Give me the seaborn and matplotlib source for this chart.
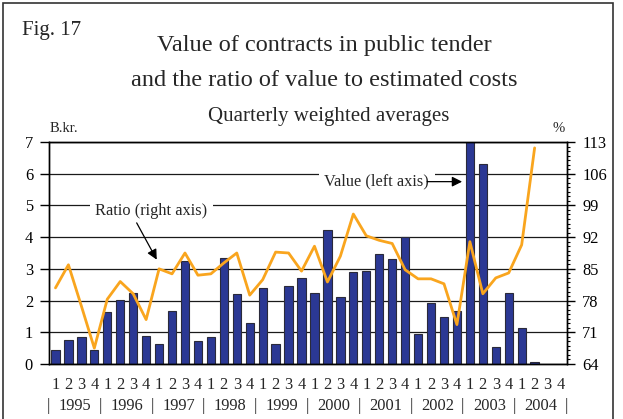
import numpy as np
import pandas as pd
import matplotlib
matplotlib.use("Agg")
import matplotlib.pyplot as plt
import matplotlib.transforms as mtransforms
from matplotlib.patches import Rectangle
from matplotlib.ticker import MultipleLocator
import seaborn as sns

# ---- data ----
years = ["1995", "1996", "1997", "1998", "1999", "2000", "2001", "2002", "2003", "2004"]
quarters = ["1", "2", "3", "4"]
categories = [f"{y}Q{q}" for y in years for q in quarters]

value_bkr = [0.45, 0.76, 0.86, 0.45,
             1.65, 2.02, 2.25, 0.87,
             0.62, 1.68, 3.26, 0.74,
             0.84, 3.34, 2.22, 1.30,
             2.41, 0.64, 2.47, 2.72,
             2.24, 4.23, 2.10, 2.91,
             2.93, 3.47, 3.32, 4.01,
             0.96, 1.93, 1.47, 1.67,
             7.00, 6.30, 0.55, 2.25,
             1.14, 0.06]

ratio_pct = [80.8, 85.9, 76.8, 67.5,
             78.3, 82.2, 79.5, 73.8,
             85.0, 83.9, 88.5, 83.6,
             83.9, 86.3, 88.5, 79.2,
             82.6, 88.7, 88.5, 84.5,
             90.0, 82.1, 87.8, 97.1,
             92.3, 91.3, 90.6, 84.8,
             82.8, 82.8, 81.7, 72.7,
             91.0, 79.5, 83.0, 84.1,
             90.3, 111.7]

left_ticks = [0, 1, 2, 3, 4, 5, 6, 7]
right_ticks = [64, 71, 78, 85, 92, 99, 106, 113]

title_lines = ["Value of contracts in public tender",
               "and the ratio of value to estimated costs"]
subtitle = "Quarterly weighted averages"

# ---- style ----
sns.set_theme(style="white")
plt.rcParams["font.family"] = ["Liberation Serif", "DejaVu Serif"]
plt.rcParams["axes.linewidth"] = 1.0

BAR = "#2b3894"
BAR_EDGE = "#2a2a3a"
LINE = "#f9a51e"
FS = 11.8

fig = plt.figure(figsize=(6.23, 4.19), dpi=100)
W, H = 623, 419
ax = fig.add_axes([49 / W, 1 - 364 / H, (567 - 49) / W, (364 - 142) / H])

df = pd.DataFrame({"cat": categories[:len(value_bkr)], "value": value_bkr})
sns.barplot(data=df, x="cat", y="value", order=categories, ax=ax,
            color=BAR, edgecolor=BAR_EDGE, linewidth=0.8, width=0.64,
            saturation=1)

ax.set_xlim(-0.5, len(categories) - 0.5)
ax.set_ylim(left_ticks[0], left_ticks[-1])
ax.set_yticks(left_ticks)
ax.set_yticklabels([str(t) for t in left_ticks], fontsize=FS)
ax.set_xticks(range(len(categories)))
ax.set_xticklabels([c[-1] for c in categories], fontsize=FS)
ax.tick_params(axis="x", length=0, pad=9)
ax.tick_params(axis="y", length=6.5, width=1, direction="out", pad=5, left=True, colors="black")
ax.set_xlabel("")
ax.set_ylabel("")
ax.grid(axis="y", color="#1a1a1a", linewidth=0.9)
ax.set_axisbelow(True)
for s in ax.spines.values():
    s.set_color("black")
    s.set_linewidth(1.0)

ax2 = ax.twinx()
sns.lineplot(x=np.arange(len(ratio_pct)), y=ratio_pct, ax=ax2, color=LINE, linewidth=2.0)
ax2.set_ylim(right_ticks[0], right_ticks[-1])
ax2.set_yticks(right_ticks)
ax2.set_yticklabels([str(t) for t in right_ticks], fontsize=FS)
ax2.yaxis.set_minor_locator(MultipleLocator(1))
ax2.tick_params(axis="y", which="major", length=6, width=1, direction="out", pad=5, right=True, colors="black")
ax2.tick_params(axis="y", which="minor", length=2.5, width=0.8, direction="out", right=True, colors="black")
ax2.set_ylabel("")
ax2.grid(False)
for s in ax2.spines.values():
    s.set_color("black")
    s.set_linewidth(1.0)

# ---- x-axis year labels ----
trans = mtransforms.blended_transform_factory(ax.transData, ax.transAxes)
for i, y in enumerate(years):
    ax.text(4 * i + 1.5, -0.19, y, transform=trans, ha="center", va="center",
            fontsize=FS, clip_on=False)
for i in range(len(years) + 1):
    ax.text(4 * i - 0.55, -0.19, "|", transform=trans, ha="center", va="center",
            fontsize=FS, clip_on=False, color="#333333")

# ---- annotations ----
box = dict(boxstyle="square,pad=0.35", fc="white", ec="none")
arrow = dict(arrowstyle="-|>", color="black", lw=0.9, mutation_scale=15,
             shrinkA=0, shrinkB=0)
ax.text(7.4, 4.84, "Ratio (right axis)", fontsize=FS, ha="center", va="center",
        zorder=10, bbox=box)
ax.annotate("", xy=(7.82, 3.29), xytext=(6.27, 4.45), zorder=11, arrowprops=arrow)
ax.text(24.8, 5.75, "Value (left axis)", fontsize=FS, ha="center", va="center",
        zorder=10, bbox=box)
ax.annotate("", xy=(31.4, 5.75), xytext=(28.7, 5.75), zorder=11, arrowprops=arrow)

# ---- titles / labels ----
fig.text(22 / W, 1 - 30 / H, "Fig. 17", fontsize=15, ha="left", va="center")
fig.text(324 / W, 1 - 45 / H, title_lines[0], fontsize=17.5, ha="center", va="center")
fig.text(324 / W, 1 - 80 / H, title_lines[1], fontsize=17.5, ha="center", va="center")
fig.text(329 / W, 1 - 116 / H, subtitle, fontsize=15, ha="center", va="center")
fig.text(64 / W, 1 - 128 / H, "B.kr.", fontsize=10.5, ha="center", va="center")
fig.text(559 / W, 1 - 128 / H, "%", fontsize=10.5, ha="center", va="center")

# ---- frame ----
fig.patches.append(Rectangle((3 / W, -0.05), (613 - 3) / W, 1.05 - 3 / H,
                             transform=fig.transFigure, fill=False,
                             edgecolor="#333333", linewidth=1.2))

fig.savefig("out.png", dpi=100)
